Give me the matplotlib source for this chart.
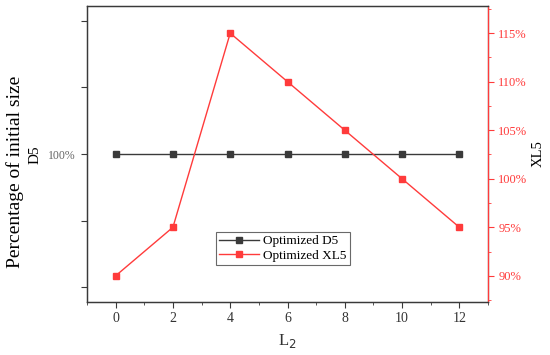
import matplotlib
matplotlib.use('Agg')
import matplotlib.pyplot as plt
from matplotlib.ticker import FixedLocator, FuncFormatter

plt.rcParams['font.family'] = ['Liberation Serif', 'DejaVu Serif']

# data
l2 = [0, 2, 4, 6, 8, 10, 12]
d5 = [100, 100, 100, 100, 100, 100, 100]
xl5 = [90, 95, 115, 110, 105, 100, 95]

red = '#ff3b3b'
gray = '#3a3a3a'

fig = plt.figure(figsize=(5.5, 3.55), dpi=100)
ax = fig.add_axes([87 / 550, 1 - 302 / 355, (488 - 87) / 550, (302 - 6) / 355])
ax2 = ax.twinx()

l1, = ax.plot(l2, d5, color=gray, marker='s', markersize=4, linewidth=1, label='Optimized D5')
l2_, = ax2.plot(l2, xl5, color=red, marker='s', markersize=4, linewidth=1, label='Optimized XL5')

ax.set_xlim(-1, 13)
ax.set_xticks(range(0, 13, 2))
ax.xaxis.set_minor_locator(FixedLocator(range(-1, 14, 2)))
ax.set_ylim(100 - 2.225, 100 + 2.225)
ax.set_yticks([98, 99, 100, 101, 102])
ax.yaxis.set_major_formatter(FuncFormatter(lambda v, p: '100%' if abs(v - 100) < 1e-6 else ''))

ax2.set_ylim(87.3, 117.8)
ax2.set_yticks([90, 95, 100, 105, 110, 115])
ax2.yaxis.set_minor_locator(FixedLocator([87.5, 92.5, 97.5, 102.5, 107.5, 112.5, 117.5]))
ax2.yaxis.set_major_formatter(FuncFormatter(lambda v, p: '%d%%' % v))

for a in (ax, ax2):
    for s in a.spines.values():
        s.set_color(gray)
        s.set_linewidth(0.9)
ax2.spines['right'].set_color(red)
ax.tick_params(axis='both', which='both', direction='out', color=gray)
ax.tick_params(axis='y', labelsize=8.5, labelcolor='#666666', pad=4)
ax.tick_params(axis='x', labelcolor='#333333', labelsize=10)
ax.tick_params(which='major', length=4)
ax.tick_params(which='minor', length=2.5)
ax2.tick_params(axis='y', which='both', direction='out', color=red, labelcolor=red, labelsize=9)
ax2.tick_params(which='major', length=4)
ax2.tick_params(which='minor', length=2.5)

ax.set_xlabel('L$_2$', fontsize=12, color='#333333', labelpad=5)
fig.text(538 / 550, 1 - 154 / 355, 'XL5', rotation=90, fontsize=10.5, ha='center', va='center')
fig.text(15 / 550, 1 - 172 / 355, 'Percentage of initial size', rotation=90, fontsize=14,
         ha='center', va='center')
fig.text(35 / 550, 1 - 155 / 355, 'D5', rotation=90, fontsize=11, ha='center', va='center')

leg = ax.legend(handles=[l1, l2_], loc='lower left', bbox_to_anchor=(0.322, 0.125),
                fontsize=9.5, frameon=True, fancybox=False, edgecolor='#444444',
                borderpad=0.25, labelspacing=0.15, handlelength=3.0, handletextpad=0.3,
                borderaxespad=0)
leg.get_frame().set_linewidth(0.8)

fig.savefig('out.png', dpi=100)
